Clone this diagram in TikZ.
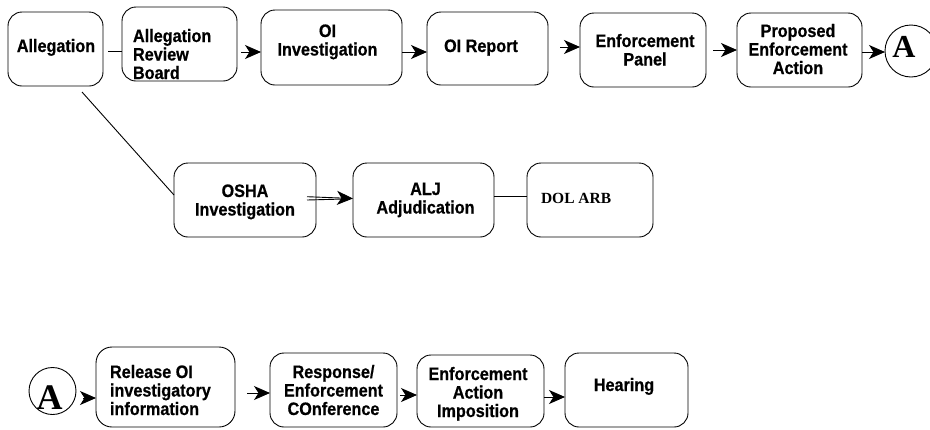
\documentclass[tikz,border=0pt]{standalone}
\usepackage{fontspec}
\setmainfont{Liberation Sans}
\newfontfamily\labfont[FakeStretch=0.9,FakeBold=0.6]{Liberation Sans}
\newfontfamily\serfont{Liberation Serif}
\usetikzlibrary{arrows.meta}
% text placed relative to node centre: #1 = x offset, #2 = first baseline offset (up)
\newcommand{\tbox}[3]{\makebox[0pt]{\hspace*{#1}\raisebox{#2}[0pt][0pt]{#3}\hspace*{-#1}}}
\newcommand{\ctr}[2]{\parbox[t]{#1}{\centering #2}}
\newcommand{\lft}[2]{\parbox[t]{#1}{\raggedright #2}}
\tikzset{
  box/.style={draw, rounded corners=14pt, line width=0.9pt, inner sep=0pt, outer sep=0pt,
    font=\labfont\fontsize{18}{18.5}\selectfont\bfseries},
  circ/.style={draw, circle, line width=0.9pt, inner sep=0pt, outer sep=0pt},
  conn/.style={line width=0.9pt},
  arr/.style={conn, -{Stealth[length=16pt,width=14pt,inset=4.5pt]}}
}
\begin{document}
\begin{tikzpicture}[x=1pt,y=-1pt]
\useasboundingbox (0,0) rectangle (930,429);
% row 1
\node[box, minimum width=95pt, minimum height=74pt] (alleg) at (55.5,49)
  {\tbox{0.5pt}{-3pt}{\ctr{90pt}{Allegation}}};
\node[box, minimum width=115pt, minimum height=74pt] (arb) at (179.5,44)
  {\tbox{3.5pt}{2pt}{\lft{100pt}{Allegation\\Review\\Board}}};
\node[box, minimum width=141pt, minimum height=75pt] (oiinv) at (331.5,47.5)
  {\tbox{-4pt}{10.5pt}{\ctr{130pt}{OI\\Investigation}}};
\node[box, minimum width=121pt, minimum height=73pt] (oirep) at (487.5,48.5)
  {\tbox{-6.5pt}{-3.5pt}{\ctr{110pt}{OI Report}}};
\node[box, minimum width=126pt, minimum height=74pt] (ep) at (643,50)
  {\tbox{2pt}{3pt}{\ctr{120pt}{Enforcement\\Panel}}};
\node[box, minimum width=125pt, minimum height=74pt] (pea) at (799.5,50)
  {\tbox{-1.5pt}{13pt}{\ctr{120pt}{Proposed\\Enforcement\\Action}}};
\node[circ, minimum size=52pt, font=\serfont\bfseries\fontsize{32}{32}\selectfont] (a1) at (911,51)
  {\tbox{-7pt}{-6.5pt}{A}};
% row 2
\node[box, minimum width=142pt, minimum height=74pt] (osha) at (245,200)
  {\tbox{0pt}{3pt}{\ctr{130pt}{OSHA\\Investigation}}};
\node[box, minimum width=141pt, minimum height=74pt] (alj) at (423.5,200)
  {\tbox{2pt}{5pt}{\ctr{130pt}{ALJ\\Adjudication}}};
\node[box, minimum width=126pt, minimum height=74pt, font=\serfont\bfseries\fontsize{15.5}{18}\selectfont] (dol) at (590,200)
  {\tbox{1pt}{-3pt}{\lft{100pt}{DOL ARB}}};
% row 3
\node[circ, minimum size=47pt, font=\serfont\bfseries\fontsize{36}{36}\selectfont] (a2) at (52.5,391)
  {\tbox{-3pt}{-18.4pt}{A}};
\node[box, minimum width=139pt, minimum height=80pt, rounded corners=16pt] (rel) at (165.5,387)
  {\tbox{4.5pt}{9pt}{\lft{120pt}{Release OI\\investigatory\\information}}};
\node[box, minimum width=127pt, minimum height=74pt] (resp) at (333.5,390)
  {\tbox{0pt}{12pt}{\ctr{120pt}{Response/\\Enforcement\\COnference}}};
\node[box, minimum width=127pt, minimum height=72pt] (eai) at (480.5,391)
  {\tbox{-2.5pt}{11pt}{\ctr{120pt}{Enforcement\\Action\\Imposition}}};
\node[box, minimum width=123pt, minimum height=74pt] (hear) at (626.5,390)
  {\tbox{-2.5pt}{-1pt}{\ctr{115pt}{Hearing}}};
% connectors row 1
\draw[conn] ([shift={(5pt,-2pt)}]alleg.east) -- ([yshift=-7pt]arb.west);
\draw[arr] ([shift={(4pt,-8pt)}]arb.east) -- ([yshift=-4.5pt]oiinv.west);
\draw[arr] ([yshift=-4.5pt]oiinv.east) -- ([yshift=-3.5pt]oirep.west);
\draw[arr] ([shift={(12pt,1.5pt)}]oirep.east) -- ([yshift=3pt]ep.west);
\draw[arr] ([xshift=7pt]ep.east) -- (pea.west);
\draw[arr] ([yshift=-2pt]pea.east) -- ([yshift=-1pt]a1.west);
% connectors row 2
\draw[conn] ([shift={(-21pt,-6pt)}]alleg.south east) -- ([yshift=5pt]osha.west);
\draw[arr] ([shift={(-9pt,3.3pt)}]osha.east) -- ([yshift=1.5pt]alj.west);
\draw[conn] ([xshift=-9pt]osha.east) -- ([shift={(-8pt,1pt)}]alj.west);
\draw[conn] ([yshift=4pt]alj.east) -- ([yshift=4pt]dol.west);
% connectors row 3
\draw[arr] ([shift={(7pt,-7pt)}]a2.east) -- ([yshift=-11pt]rel.west);
\draw[arr] ([shift={(12pt,-6pt)}]rel.east) -- ([yshift=-3pt]resp.west);
\draw[arr] ([shift={(3pt,-5pt)}]resp.east) -- ([yshift=-4pt]eai.west);
\draw[arr] ([yshift=-6pt]eai.east) -- ([yshift=-7pt]hear.west);
\end{tikzpicture}
\end{document}
